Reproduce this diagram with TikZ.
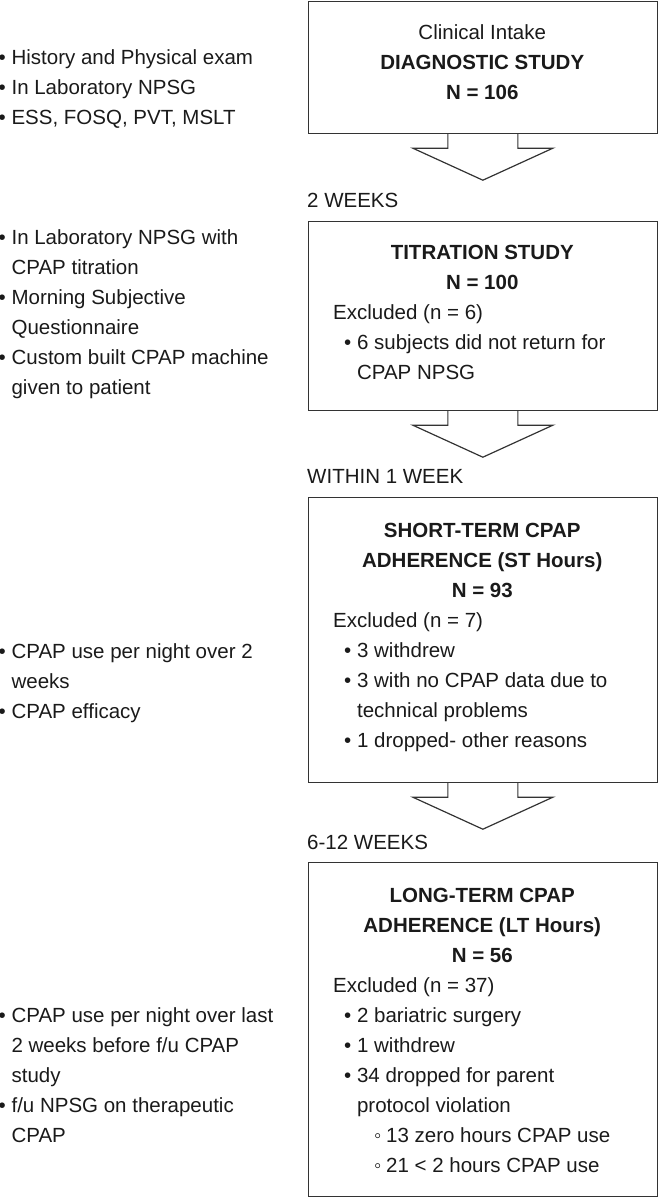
\documentclass[tikz,border=0pt]{standalone}
\usepackage{fontspec}
\setmainfont{Liberation Sans}
\usetikzlibrary{positioning}

\definecolor{ink}{HTML}{1A1A1A}
\definecolor{frame}{HTML}{333333}

\newcommand{\hang}{\phantom{•\ }}

\tikzset{
  txt/.style={inner sep=0pt, text=ink, font=\fontsize{20.5pt}{30pt}\selectfont},
  box/.style={draw=frame, line width=1.2pt, inner sep=0pt, minimum width=348.5pt, anchor=north west},
  blockarrow/.style={draw=frame, line width=1.2pt, line join=miter},
}

\def\bX{308}
\def\xC{482.25}
\def\xE{333}
\def\xL{-1.5}

\begin{document}
\begin{tikzpicture}[x=1pt, y=-1pt]
    \useasboundingbox (0,0) rectangle (658,1198);

    %%   (lable)  (x, y)
    \node[box, minimum height=132pt] (B1) at (\bX,   1) {};
    \node[box, minimum height=189pt] (B2) at (\bX, 221) {};
    \node[box, minimum height=285pt] (B3) at (\bX, 497) {};
    \node[box, minimum height=334pt] (B4) at (\bX, 862) {};

    %% box texts (y = baseline of the last line)
    \node[txt, anchor=base, align=center] (T1) at (\xC, 100) {Clinical Intake\\ \textbf{DIAGNOSTIC STUDY}\\ \textbf{N = 106}};
    \node[txt, anchor=base, align=center] (T2) at (\xC, 289) {\textbf{TITRATION STUDY}\\ \textbf{N = 100}};
    \node[txt, anchor=base, align=center] (T3) at (\xC, 597) {\textbf{SHORT-TERM CPAP}\\ \textbf{ADHERENCE (ST Hours)}\\ \textbf{N = 93}};
    \node[txt, anchor=base, align=center] (T4) at (\xC, 962) {\textbf{LONG-TERM CPAP}\\ \textbf{ADHERENCE (LT Hours)}\\ \textbf{N = 56}};

    \node[txt, anchor=base west, align=left] (E2) at (\xE,  379) {Excluded (n = 6)\\
      \hspace*{11pt}• 6 subjects did not return for\\
      \hspace*{11pt}\hang CPAP NPSG};
    \node[txt, anchor=base west, align=left] (E3) at (\xE,  747) {Excluded (n = 7)\\
      \hspace*{11pt}• 3 withdrew\\
      \hspace*{11pt}• 3 with no CPAP data due to\\
      \hspace*{11pt}\hang technical problems\\
      \hspace*{11pt}• 1 dropped- other reasons};
    \node[txt, anchor=base west, align=left] (E4) at (\xE, 1172) {Excluded (n = 37)\\
      \hspace*{11pt}• 2 bariatric surgery\\
      \hspace*{11pt}• 1 withdrew\\
      \hspace*{11pt}• 34 dropped for parent\\
      \hspace*{11pt}\hang protocol violation\\
      \hspace*{41pt}\makebox[12pt][l]{◦}13 zero hours CPAP use\\
      \hspace*{41pt}\makebox[12pt][l]{◦}21 < 2 hours CPAP use};

    %% left column
    \node[txt, anchor=base west, align=left] (L1) at (\xL,  125) {• History and Physical exam\\ • In Laboratory NPSG\\ • ESS, FOSQ, PVT, MSLT};
    \node[txt, anchor=base west, align=left] (L2) at (\xL,  394) {• In Laboratory NPSG with\\ \hang CPAP titration\\
      • Morning Subjective\\ \hang Questionnaire\\ • Custom built CPAP machine\\ \hang given to patient};
    \node[txt, anchor=base west, align=left] (L3) at (\xL,  718) {• CPAP use per night over 2\\ \hang weeks\\ • CPAP efficacy};
    \node[txt, anchor=base west, align=left] (L4) at (\xL, 1142) {• CPAP use per night over last\\ \hang 2 weeks before f/u CPAP\\
      \hang study\\ • f/u NPSG on therapeutic\\ \hang CPAP};

    %% intervals
    \node[txt, anchor=base west] (W1) at (307,  208) {2 WEEKS};
    \node[txt, anchor=base west] (W2) at (307,  483) {WITHIN 1 WEEK};
    \node[txt, anchor=base west] (W3) at (307,  849) {6-12 WEEKS};

    %% block arrows
    \coordinate (A1) at ([yshift=-46pt]B1.south);
    \coordinate (A2) at ([yshift=-46pt]B2.south);
    \coordinate (A3) at ([yshift=-46pt]B3.south);
    \draw[blockarrow] ([xshift=-35pt]B1.south) -- ++(0,14) -- ++(-35,0) -- (A1) -- ++(70,-32) -- ++(-35,0) -- ++(0,-14);
    \draw[blockarrow] ([xshift=-35pt]B2.south) -- ++(0,14) -- ++(-35,0) -- (A2) -- ++(70,-32) -- ++(-35,0) -- ++(0,-14);
    \draw[blockarrow] ([xshift=-35pt]B3.south) -- ++(0,14) -- ++(-35,0) -- (A3) -- ++(70,-32) -- ++(-35,0) -- ++(0,-14);

  \end{tikzpicture}
\end{document}
